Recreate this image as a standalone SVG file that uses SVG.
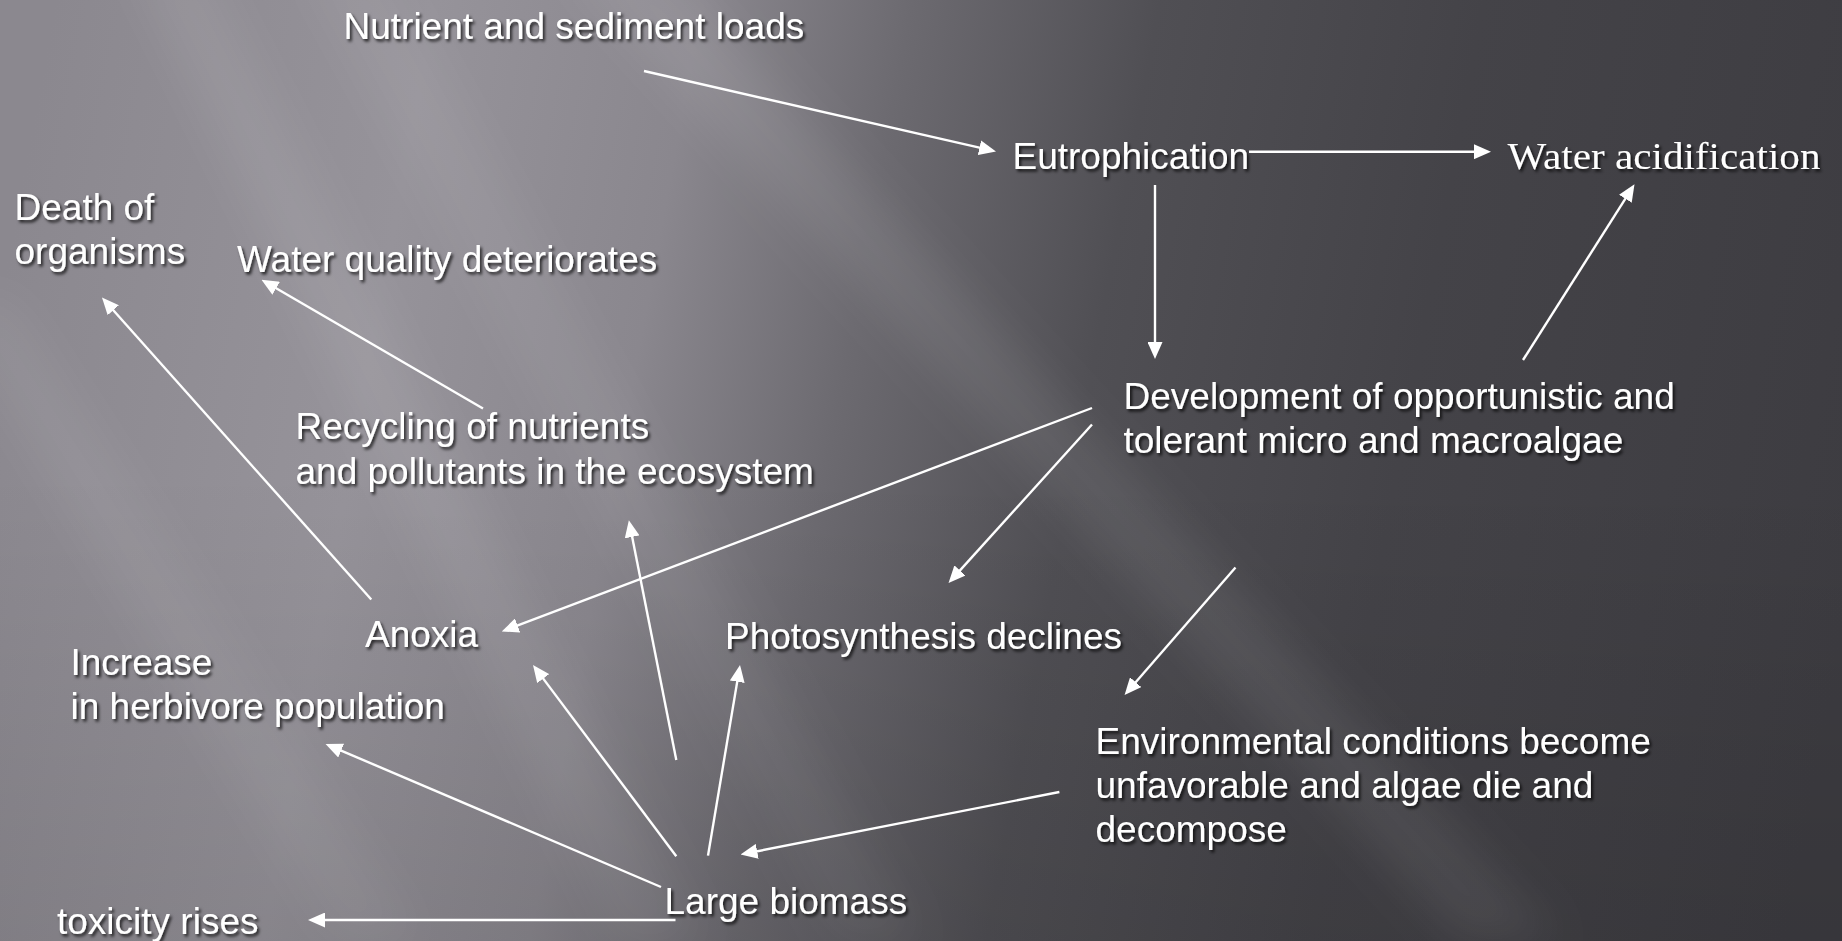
<svg xmlns="http://www.w3.org/2000/svg" width="1842" height="941" viewBox="0 0 1842 941">
  <defs>
    <linearGradient id="bgGrad" gradientUnits="userSpaceOnUse" x1="0" y1="300" x2="1842" y2="640">
      <stop offset="0" stop-color="#8b888f"/>
      <stop offset="0.2" stop-color="#96939a"/>
      <stop offset="0.34" stop-color="#8a878e"/>
      <stop offset="0.45" stop-color="#6c6a70"/>
      <stop offset="0.58" stop-color="#504f54"/>
      <stop offset="0.75" stop-color="#444348"/>
      <stop offset="1" stop-color="#3d3c41"/>
    </linearGradient>
    <linearGradient id="shadeGrad" x1="0" y1="0" x2="0" y2="1">
      <stop offset="0" stop-color="#000" stop-opacity="0"/>
      <stop offset="0.5" stop-color="#000" stop-opacity="0"/>
      <stop offset="1" stop-color="#000" stop-opacity="0.1"/>
    </linearGradient>
    <filter id="soft" x="-20%" y="-20%" width="140%" height="140%">
      <feGaussianBlur stdDeviation="22"/>
    </filter>
    <filter id="txtShadow" x="-10%" y="-30%" width="120%" height="160%">
      <feDropShadow dx="2" dy="2.5" stdDeviation="1.6" flood-color="#000" flood-opacity="0.75"/>
    </filter>
    <marker id="arrow" viewBox="0 0 17 15" markerUnits="userSpaceOnUse" markerWidth="17" markerHeight="15" refX="9" refY="7.5" orient="auto">
      <path d="M0,0 L17,7.5 L0,15 z" fill="#ffffff"/>
    </marker>
    <style>
      .lbl { font-family: "Liberation Sans", Arial, sans-serif; font-size: 37px; fill: #ffffff; filter: url(#txtShadow); }
      .serif { font-family: "Liberation Serif", "Times New Roman", serif; font-size: 38px; fill: #ffffff; filter: url(#txtShadow); }
      .conn line { stroke: #ffffff; stroke-width: 2.4; fill: none; }
      .arr { marker-end: url(#arrow); }
    </style>
  </defs>

  <!-- background -->
  <rect x="0" y="0" width="1842" height="941" fill="url(#bgGrad)"/>
  <g filter="url(#soft)" fill="#ffffff">
    <polygon points="560,-40 660,-40 1560,941 1460,941" opacity="0.08"/>
    <polygon points="130,-40 200,-40 700,941 620,941" opacity="0.07"/>
    <polygon points="-60,300 10,300 420,941 340,941" opacity="0.06"/>
    <polygon points="300,-40 380,-40 920,941 840,941" opacity="0.05"/>
  </g>
  <rect x="0" y="0" width="1842" height="941" fill="url(#shadeGrad)"/>

  <!-- connectors -->
  <g id="connectors" class="conn">
    <line class="arr" x1="644" y1="71" x2="988.2" y2="149.7"/>
    <line class="arr" x1="1249" y1="151.7" x2="1483" y2="151.7"/>
    <line class="arr" x1="1155" y1="185" x2="1155" y2="351"/>
    <line class="arr" x1="1523" y1="360" x2="1630.2" y2="191.1"/>
    <line class="arr" x1="1092" y1="408" x2="509.2" y2="628.7"/>
    <line class="arr" x1="1092" y1="424.5" x2="953.9" y2="577.1"/>
    <line class="arr" x1="1235.5" y1="567.5" x2="1129.8" y2="689"/>
    <line class="arr" x1="1059.4" y1="792" x2="748.4" y2="853"/>
    <line class="arr" x1="675.5" y1="920" x2="316" y2="920"/>
    <line class="arr" x1="661" y1="887" x2="332.9" y2="747.1"/>
    <line class="arr" x1="676.3" y1="856.2" x2="537.8" y2="671.4"/>
    <line class="arr" x1="708" y1="855.6" x2="738.7" y2="672.9"/>
    <line class="arr" x1="676.3" y1="760" x2="630.4" y2="528.1"/>
    <line class="arr" x1="371.3" y1="599.5" x2="107.3" y2="303.5"/>
    <line class="arr" x1="483" y1="408.5" x2="268.4" y2="283.8"/>
  </g>

  <!-- nodes -->
  <g id="n-nutrient"><text class="lbl" x="343.5" y="38.5">Nutrient and sediment loads</text></g>
  <g id="n-eutrophication"><text class="lbl" x="1012.5" y="168.5">Eutrophication</text></g>
  <g id="n-acidification"><text class="serif" x="1507.5" y="168.5" textLength="313" lengthAdjust="spacingAndGlyphs">Water acidification</text></g>
  <g id="n-death">
    <text class="lbl" x="14.5" y="219.5">Death of</text>
    <text class="lbl" x="14.5" y="263.5">organisms</text>
  </g>
  <g id="n-waterquality"><text class="lbl" x="237" y="271.5">Water quality deteriorates</text></g>
  <g id="n-recycling">
    <text class="lbl" x="295.5" y="438.5">Recycling of nutrients</text>
    <text class="lbl" x="295.5" y="483.5">and pollutants in the ecosystem</text>
  </g>
  <g id="n-development">
    <text class="lbl" x="1123.5" y="408.5">Development of opportunistic and</text>
    <text class="lbl" x="1123.5" y="452.5">tolerant micro and macroalgae</text>
  </g>
  <g id="n-anoxia"><text class="lbl" x="365" y="646.5">Anoxia</text></g>
  <g id="n-photosynthesis"><text class="lbl" x="725" y="648.5">Photosynthesis declines</text></g>
  <g id="n-herbivore">
    <text class="lbl" x="70.5" y="674.5">Increase</text>
    <text class="lbl" x="70.5" y="718.5">in herbivore population</text>
  </g>
  <g id="n-environmental">
    <text class="lbl" x="1095.5" y="753.5">Environmental conditions become</text>
    <text class="lbl" x="1095.5" y="797.5">unfavorable and algae die and</text>
    <text class="lbl" x="1095.5" y="841.5">decompose</text>
  </g>
  <g id="n-biomass"><text class="lbl" x="664.5" y="913.5">Large biomass</text></g>
  <g id="n-toxicity"><text class="lbl" x="57" y="933.5">toxicity rises</text></g>
</svg>
